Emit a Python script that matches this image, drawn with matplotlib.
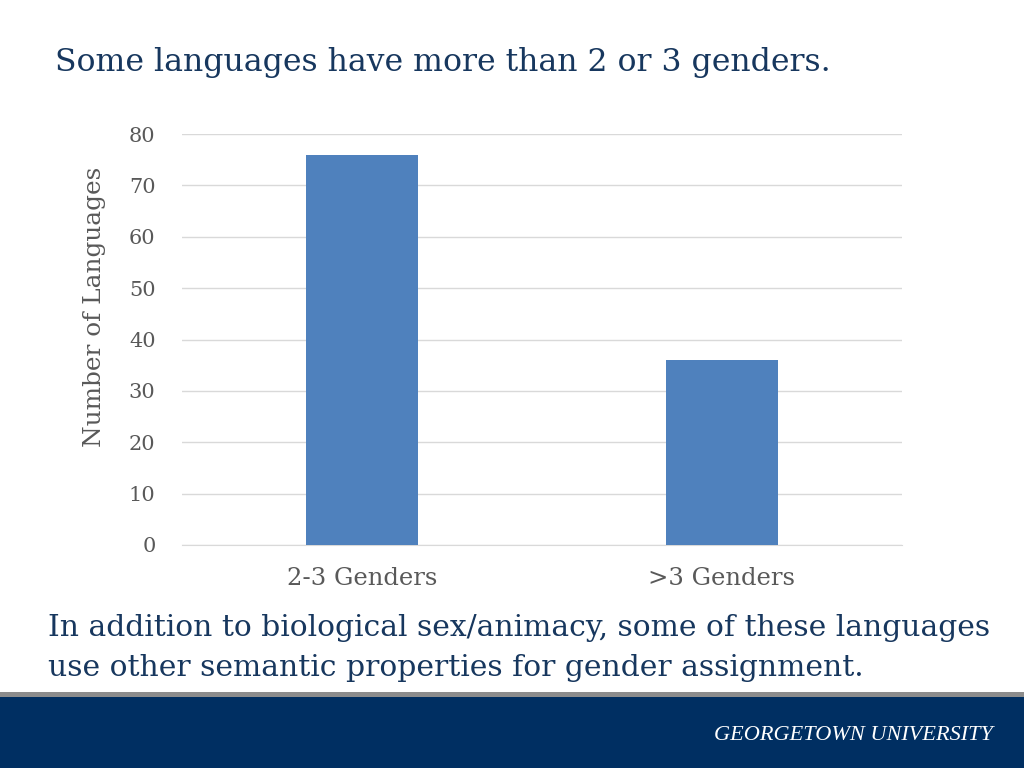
import matplotlib.pyplot as plt
from matplotlib.patches import Rectangle

categories = ['2-3 Genders', '>3 Genders']
counts = [76, 36]
yticks = [0, 10, 20, 30, 40, 50, 60, 70, 80]

navy = '#17375e'
grey_txt = '#595959'
serif = ['DejaVu Serif']

fig = plt.figure(figsize=(10.24, 7.68), dpi=100)

# footer band
fig.patches.append(Rectangle((0, 0), 1, 71/768, transform=fig.transFigure,
                             facecolor='#002f62', edgecolor='none', zorder=0))
fig.patches.append(Rectangle((0, 71/768), 1, 5/768, transform=fig.transFigure,
                             facecolor='#8c8c8c', edgecolor='none', zorder=0))
fig.text(993/1024, 1 - 735/768, 'GEORGETOWN UNIVERSITY', color='white',
         fontsize=16, style='italic', family=['Liberation Serif'], ha='right', va='center')

fig.text(55/1024, 1 - 62/768, 'Some languages have more than 2 or 3 genders.',
         color=navy, fontsize=22.7, family=serif, ha='left', va='center')
fig.text(48/1024, 1 - 628/768,
         'In addition to biological sex/animacy, some of these languages',
         color=navy, fontsize=21.4, family=serif, ha='left', va='center')
fig.text(48/1024, 1 - 668/768,
         'use other semantic properties for gender assignment.',
         color=navy, fontsize=21.4, family=serif, ha='left', va='center')

ax = fig.add_axes([182/1024, 1 - 545/768, 720/1024, 411/768])
x = range(len(categories))
ax.bar(x, counts, width=0.31, color='#4f81bd', zorder=3)
ax.set_xlim(-0.5, 1.5)
ax.set_ylim(0, 80)
ax.set_yticks(yticks)
ax.set_xticks(list(x))
ax.set_xticklabels(categories, family=serif, fontsize=17.5, color=grey_txt)
ax.set_yticklabels([str(t) for t in yticks], family=serif, fontsize=15, color=grey_txt)
ax.tick_params(length=0)
ax.tick_params(axis='y', pad=19)
ax.tick_params(axis='x', pad=16)
ax.grid(axis='y', color='#d9d9d9', linewidth=1, zorder=0)
for s in ['top', 'right', 'left']:
    ax.spines[s].set_visible(False)
ax.spines['bottom'].set_color('#d9d9d9')
ax.set_ylabel('Number of Languages', family=serif, fontsize=17.8, color=grey_txt)
ax.yaxis.set_label_coords(-0.106, 0.58)

fig.savefig('out.png', dpi=100)
